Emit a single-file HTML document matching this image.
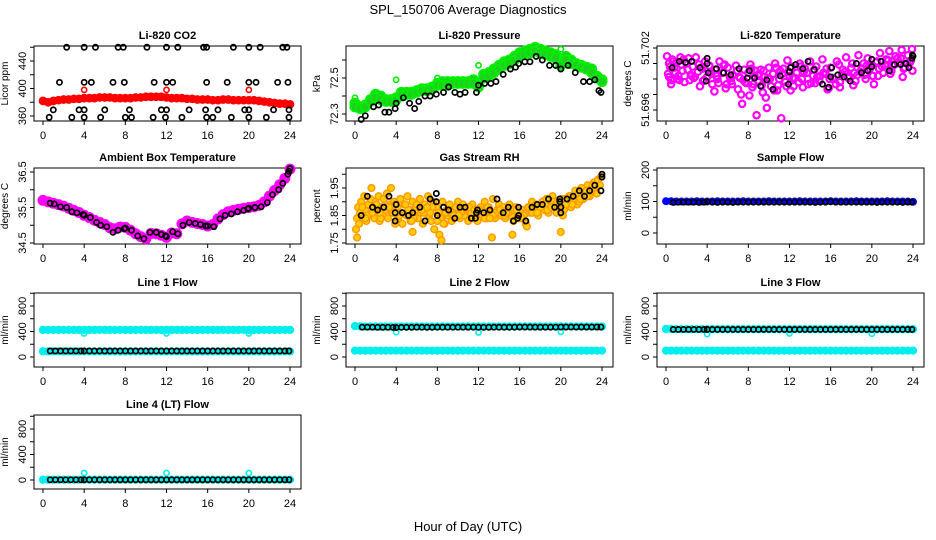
<!DOCTYPE html>
<html><head><meta charset="utf-8"><style>
body{margin:0;background:#fff}
svg{display:block;font-family:"Liberation Sans",sans-serif}
</style></head><body>
<svg id="c" width="936" height="540" viewBox="0 0 936 540">
<text x="468" y="14" text-anchor="middle" font-size="13">SPL_150706  Average Diagnostics</text>
<text x="468" y="531" text-anchor="middle" font-size="13">Hour of Day (UTC)</text>
</svg>
<script>
const T49=[0,0.5,1,1.5,2,2.5,3,3.5,4,4.5,5,5.5,6,6.5,7,7.5,8,8.5,9,9.5,10,10.5,11,11.5,12,12.5,13,13.5,14,14.5,15,15.5,16,16.5,17,17.5,18,18.5,19,19.5,20,20.5,21,21.5,22,22.5,23,23.5,24];
const TB=[0.7,1.2,1.7,2.2,2.7,3.2,3.7,4.0,4.5,5.0,5.5,6.0,6.5,7.0,7.5,8.0,8.5,9.0,9.5,10.0,10.5,11.0,11.5,12.0,12.5,13.0,13.5,14.0,14.5,15.0,15.5,16.0,16.5,17.0,17.5,18.0,18.5,19.0,19.5,20.0,20.5,21.0,21.5,22.0,22.5,23.0,23.5,23.9];
const xTicks=[0,4,8,12,16,20,24];

// CO2
const co2Red=[382,380,382,383,384,384,385,385,386,386,386,387,387,387,386,386,386,386,387,387,388,388,388,388,387,386,386,386,385,385,384,384,384,383,383,384,384,383,383,383,383,383,382,381,380,379,378,378,377];
const co2RedOutT=[4,12,20];
const co2RedOutV=[398,398,398];
const co2BlackT=[2.3,4,5.1,7.3,7.8,10.1,12,13.1,15.6,15.9,18.5,20,21.1,23.3,23.7, 1.6,4,4.7,6.8,7.9,10.8,12,12.6,15.9,17.9,20,20.7,22.8,23.8, 1.0,3.5,4,6,8.4,11.5,12,14.2,15.8,17,19.6,20,22.4,23.9, 0.6,2.8,4,5.6,8,8.6,10.7,11.9,13.5,15.9,16.5,18.3,20,21.7,23.9];
const co2BlackV=[460,460,460,460,460,460,460,460,460,460,460,460,460,460,460, 409,409,409,409,409,409,409,409,409,409,409,409,409,409, 369,369,369,369,369,369,369,369,369,369,369,369,369,369, 358,358,358,358,358,358,358,358,358,358,358,358,358,358,358];

// Pressure
const presGreen=[72.36,72.34,72.35,72.38,72.41,72.40,72.38,72.38,72.39,72.42,72.42,72.42,72.43,72.44,72.44,72.45,72.47,72.48,72.48,72.48,72.48,72.48,72.48,72.49,72.46,72.52,72.53,72.55,72.57,72.59,72.60,72.62,72.64,72.65,72.66,72.67,72.66,72.65,72.64,72.63,72.58,72.62,72.60,72.58,72.57,72.56,72.55,72.51,72.49];
const presGreenLow=[72.34,72.33,72.34,72.37,72.39,72.38,72.37,72.37,72.38,72.40,72.41,72.41,72.42,72.43,72.43,72.44,72.46,72.46,72.46,72.47,72.47,72.47,72.47,72.47,72.45,72.50,72.51,72.53,72.55,72.57,72.58,72.60,72.62,72.63,72.64,72.65,72.64,72.63,72.62,72.61,72.57,72.60,72.58,72.57,72.56,72.55,72.53,72.50,72.48];
const presGreenOutT=[0,4,8,12,20];
const presGreenOutV=[72.39,72.49,72.50,72.57,72.66];
const presBlackT=[0.6,1,1.8,2.3,2.9,3.3,3.9,4,4.7,5.3,5.8,6.2,6.8,7.3,7.9,8.6,9.1,9.7,10.2,10.7,11.8,12,12.6,13.2,13.7,14.4,15.1,15.6,15.9,16.5,17,17.6,18.2,18.9,19.5,20,20.7,21.4,22.2,22.8,23.3,23.7,23.9];
const presBlackV=[72.27,72.29,72.34,72.35,72.31,72.31,72.33,72.36,72.39,72.36,72.33,72.37,72.40,72.40,72.41,72.42,72.45,72.42,72.41,72.42,72.42,72.46,72.47,72.47,72.48,72.52,72.55,72.56,72.58,72.59,72.59,72.62,72.60,72.57,72.57,72.55,72.57,72.53,72.48,72.48,72.49,72.43,72.42];

// Temperature
const tempMagT=[0.1,0.2,0.3,0.5,0.6,0.8,1.0,1.2,1.4,1.6,1.8,2.0,2.2,2.4,2.6,2.9,3.1,3.3,3.5,3.8,4.0,4.2,4.5,4.8,5.0,5.2,5.5,5.8,6.0,6.3,6.5,6.8,7.0,7.2,7.4,7.6,7.8,8.0,8.2,8.4,8.6,8.8,9.0,9.2,9.4,9.6,9.8,10.0,10.2,10.4,10.6,10.8,11.0,11.2,11.4,11.6,11.8,12.0,12.2,12.4,12.7,13.0,13.2,13.5,13.8,14.0,14.3,14.6,14.9,15.2,15.5,15.8,16.0,16.3,16.6,16.9,17.2,17.5,17.8,18.1,18.4,18.7,19.0,19.3,19.6,19.9,20.2,20.5,20.8,21.1,21.4,21.7,22.0,22.3,22.6,22.9,23.2,23.5,23.8,23.9,23.95,
0.4,0.9,1.5,2.1,2.7,3.4,4.3,4.9,5.6,6.2,6.9,7.5,8.3,8.9,9.5,10.1,10.7,11.3,11.9,12.5,13.1,13.7,14.4,15.0,15.6,16.2,16.8,17.4,18.0,18.6,19.2,19.8,20.4,21.0,21.6,22.2,22.8,23.4,
0.3,0.7,1.1,1.7,2.3,2.8,3.2,3.7,4.4,5.1,5.7,6.4,7.1,7.7,8.1,8.7,9.3,9.9,10.5,11.1,11.7,12.3,12.9,13.4,14.1,14.7,15.3,15.9,16.5,17.1,17.7,18.3,18.9,19.5,20.1,20.7,21.3,21.9,22.5,23.1,23.7,
0.5,1.3,2.5,3.6,4.7,5.9,7.3,8.5,9.7,10.9,12.1,13.3,14.5,15.7,16.9,18.2,19.4,20.6,21.8,23.0];
const tempMagV=[51.7012,51.6995,51.7005,51.6989,51.7009,51.7001,51.7006,51.6993,51.7011,51.6998,51.6987,51.7005,51.7010,51.6994,51.7002,51.7011,51.6997,51.6983,51.7000,51.7007,51.6992,51.7003,51.6985,51.6999,51.6990,51.7007,51.6996,51.6981,51.7001,51.6988,51.6994,51.7003,51.6980,51.6991,51.6966,51.6999,51.6986,51.6996,51.7004,51.6982,51.6993,51.6955,51.6987,51.6999,51.6977,51.6992,51.6962,51.7001,51.6983,51.6995,51.7005,51.6979,51.6990,51.6952,51.7000,51.6987,51.7008,51.6993,51.7002,51.6983,51.6996,51.7005,51.6990,51.7000,51.6985,51.7007,51.6993,51.7002,51.6988,51.7009,51.6995,51.6981,51.7001,51.6990,51.7007,51.6982,51.6999,51.7011,51.6993,51.7005,51.6988,51.7013,51.7000,51.6994,51.7010,51.7003,51.6985,51.7007,51.7015,51.6996,51.7009,51.7017,51.7003,51.7012,51.7006,51.7018,51.7001,51.7013,51.7008,51.7019,51.6998,
51.7002,51.6996,51.7004,51.6999,51.6991,51.7001,51.6997,51.6993,51.7003,51.6992,51.6998,51.6989,51.7000,51.6994,51.6998,51.6990,51.7001,51.6995,51.6997,51.6991,51.7002,51.6996,51.6999,51.6993,51.7000,51.6991,51.7004,51.6997,51.7001,51.6994,51.7005,51.7000,51.7006,51.7002,51.7008,51.7004,51.7010,51.7005,
51.6992,51.7007,51.6990,51.7009,51.6989,51.6992,51.7004,51.6989,51.6995,51.6986,51.7004,51.6985,51.6992,51.6987,51.6974,51.6998,51.6984,51.6991,51.6979,51.6998,51.6983,51.6991,51.6987,51.6997,51.6986,51.6992,51.6996,51.6990,51.6985,51.6995,51.6991,51.6996,51.6997,51.7003,51.6993,51.7000,51.7004,51.6998,51.7010,51.7000,51.7006,
51.6985,51.6989,51.6993,51.6988,51.6978,51.6985,51.6975,51.6985,51.6972,51.6984,51.6979,51.6982,51.6986,51.6980,51.6987,51.6984,51.6990,51.6993,51.6995,51.6992];
const tempBlackT=[0.6,1.3,1.9,2.5,3.3,3.9,4.0,4.0,4.1,4.9,5.6,6.3,7.1,7.9,8.1,8.6,9.2,9.8,10.4,11.1,11.9,12.0,12.1,12.6,13.3,13.8,14.4,15.2,15.8,16.0,16.1,16.7,17.3,17.9,18.5,19.0,19.6,20.0,20.0,20.9,21.7,22.2,22.8,23.3,23.6,23.9,24.0,23.95];
const tempBlackV=[51.7001,51.7007,51.7006,51.7007,51.7001,51.6988,51.7010,51.7005,51.6996,51.7000,51.6996,51.6994,51.7000,51.6991,51.6998,51.6991,51.6983,51.6989,51.6980,51.6993,51.6985,51.6997,51.7001,51.7004,51.7000,51.7007,51.6999,51.6985,51.6982,51.6992,51.7001,51.6994,51.6992,51.6988,51.7005,51.6996,51.6998,51.7009,51.7002,51.7007,51.6998,51.7004,51.7004,51.7005,51.7001,51.7010,51.7012,51.7013];

// Ambient
const ambMag=[35.7,35.66,35.62,35.58,35.54,35.48,35.42,35.36,35.28,35.22,35.14,35.08,35.02,34.93,34.9,34.95,34.94,34.86,34.76,34.68,34.62,34.77,34.76,34.72,34.66,34.78,34.76,35.04,35.12,35.08,35.05,35.02,34.98,35.02,35.18,35.3,35.38,35.42,35.45,35.48,35.5,35.52,35.56,35.66,35.82,35.98,36.14,36.32,36.58];
const ambBlackT=[0.7,1.1,1.7,2.3,2.8,3.3,3.9,4.0,4.6,5.2,5.6,6.2,6.8,7.3,7.9,8.0,8.6,9.2,9.8,10.4,11.0,11.5,11.9,12.0,12.6,13.1,13.6,14.2,14.8,15.3,15.8,16.0,16.6,17.2,17.7,18.3,18.9,19.5,19.9,20.0,20.6,21.2,21.8,22.3,22.9,23.3,23.8,23.9,24.0];
const ambBlackV=[35.62,35.6,35.52,35.5,35.38,35.35,35.3,35.28,35.22,35.08,35.0,34.96,34.8,34.86,34.9,34.92,34.86,34.7,34.62,34.8,34.8,34.74,34.7,34.68,34.82,34.76,35.0,35.08,35.05,35.02,34.98,34.98,34.96,35.18,35.28,35.32,35.38,35.42,35.46,35.48,35.5,35.52,35.64,35.86,36.0,36.18,36.44,36.52,36.6];

// RH
const rhOrT=[0.1,0.2,0.3,0.4,0.5,0.6,0.8,0.9,1.0,1.1,1.3,1.4,1.5,1.6,1.8,1.9,2.0,2.2,2.3,2.4,2.6,2.7,2.8,3.0,3.1,3.2,3.4,3.5,3.6,3.8,3.9,4.1,4.2,4.4,4.5,4.6,4.8,5.0,5.1,5.3,5.4,5.6,5.8,5.9,6.1,6.3,6.4,6.6,6.8,6.9,7.1,7.2,7.4,7.6,7.7,7.9,8.1,8.2,8.4,8.5,8.7,8.9,9.0,9.2,9.4,9.5,9.7,9.9,10.0,10.2,10.4,10.5,10.7,10.9,11.0,11.2,11.4,11.5,11.7,11.9,12.0,12.2,12.4,12.6,12.8,13.0,13.2,13.4,13.6,13.8,14.0,14.2,14.4,14.6,14.8,15.0,15.2,15.4,15.6,15.8,16.0,16.2,16.4,16.6,16.8,17.0,17.2,17.4,17.6,17.8,18.0,18.2,18.4,18.6,18.8,19.0,19.2,19.4,19.6,19.8,20.0,20.2,20.4,20.6,20.8,21.0,21.2,21.4,21.6,21.8,22.0,22.2,22.4,22.6,22.8,23.0,23.2,23.4,23.6,23.8,23.9,
0.5,1.2,2.1,2.9,3.7,4.3,5.2,6.0,6.7,7.5,8.3,9.1,9.8,10.6,11.3,12.1,12.9,13.7,14.5,15.3,16.1,16.9,17.7,18.5,19.3,20.1,20.9,21.7,22.5,23.3,0.2,13.3,15.3,20.0,8.4,5.6,16.7,
0.7,1.7,2.5,3.3,4.0,4.9,5.7,6.5,7.3,8.0,8.8,9.6,10.3,11.1,11.8,12.6,13.4,14.1,14.9,15.7,16.4,17.2,18.0,18.7,19.5,20.3,21.1,21.8,22.6,23.5,
1.0,2.4,3.9,5.5,7.0,8.6,10.1,11.6,13.1,14.7,16.2,17.7,19.1,20.5,21.9,23.1];
const rhOrV=[1.80,1.84,1.88,1.82,1.86,1.90,1.84,1.92,1.87,1.83,1.89,1.85,1.91,1.95,1.88,1.84,1.90,1.86,1.92,1.83,1.88,1.85,1.91,1.87,1.93,1.84,1.89,1.95,1.86,1.90,1.82,1.88,1.84,1.91,1.86,1.82,1.89,1.85,1.92,1.87,1.83,1.90,1.85,1.88,1.84,1.91,1.86,1.82,1.89,1.87,1.92,1.85,1.83,1.90,1.80,1.88,1.86,1.78,1.84,1.90,1.82,1.87,1.85,1.89,1.83,1.87,1.85,1.88,1.90,1.84,1.87,1.89,1.85,1.88,1.83,1.86,1.89,1.84,1.87,1.83,1.86,1.88,1.85,1.90,1.84,1.88,1.86,1.91,1.84,1.87,1.89,1.85,1.88,1.84,1.87,1.89,1.85,1.83,1.88,1.86,1.84,1.87,1.85,1.82,1.88,1.86,1.90,1.87,1.89,1.85,1.88,1.90,1.87,1.91,1.86,1.89,1.92,1.88,1.86,1.90,1.87,1.85,1.91,1.89,1.92,1.88,1.91,1.94,1.89,1.92,1.95,1.91,1.93,1.96,1.92,1.95,1.97,1.94,1.98,1.96,1.99,
1.86,1.85,1.89,1.88,1.86,1.85,1.87,1.89,1.86,1.88,1.84,1.86,1.88,1.85,1.86,1.87,1.88,1.86,1.85,1.87,1.86,1.88,1.87,1.89,1.90,1.91,1.92,1.93,1.94,1.95,1.77,1.77,1.78,1.79,1.76,1.79,1.81,
1.88,1.86,1.84,1.88,1.86,1.89,1.84,1.87,1.86,1.83,1.86,1.85,1.86,1.88,1.87,1.84,1.85,1.87,1.86,1.87,1.85,1.86,1.88,1.87,1.89,1.87,1.89,1.90,1.92,1.93,
1.84,1.86,1.89,1.83,1.88,1.82,1.85,1.87,1.84,1.86,1.84,1.86,1.88,1.89,1.91,1.96];
const rhBlackT=[0.6,1.2,1.7,2.2,2.8,3.3,3.9,3.9,4.0,4.6,5.2,5.6,6.3,6.8,7.3,7.9,7.9,8.0,8.6,9.1,9.7,10.2,10.7,11.3,11.7,11.8,11.9,12.5,13.1,13.8,14.4,14.9,15.4,15.8,15.9,15.9,16.6,17.2,17.7,18.2,18.8,19.4,19.9,19.9,20.0,20.0,20.6,21.2,21.8,22.3,22.8,23.3,23.9,24.0,24.0];
const rhBlackV=[1.85,1.92,1.88,1.87,1.88,1.92,1.83,1.86,1.89,1.86,1.85,1.86,1.88,1.83,1.91,1.90,1.93,1.85,1.88,1.87,1.84,1.88,1.88,1.84,1.84,1.86,1.87,1.86,1.87,1.91,1.86,1.88,1.83,1.84,1.85,1.88,1.83,1.88,1.89,1.89,1.91,1.88,1.91,1.90,1.86,1.88,1.91,1.92,1.94,1.92,1.94,1.96,1.94,1.99,2.0];

// Sample Flow
const sampBlue=[101,101,100,100,100,100,101,100,100,100,101,100,100,100,100,101,100,100,100,100,101,100,100,100,100,100,101,100,100,100,100,100,101,100,100,100,100,101,100,100,100,100,100,101,100,100,100,100,99];
const sampBlack=[97,98,98,98,98,97,98,99,98,97,98,98,97,98,98,98,98,98,98,98,98,98,98,98,98,98,98,98,97,98,98,99,98,98,98,98,98,98,98,98,97,98,98,98,98,97,98,98];

// Line flows
const l1CyanHi=[425,426,425,425,426,425,425,425,426,425,425,426,425,425,425,426,425,425,425,426,425,425,425,425,426,425,425,425,426,425,425,425,426,425,425,426,425,425,425,426,425,425,425,426,425,425,425,426,425];
const l1CyanLo=[90,88,88,88,88,88,88,88,88,88,88,88,88,88,88,88,88,88,88,88,88,88,88,88,88,88,88,88,88,88,88,88,88,88,88,88,88,88,88,88,88,88,88,88,88,88,88,88,88];
const l1Black=[95,95,95,95,95,95,95,95,95,95,95,95,95,95,95,95,95,95,95,95,95,95,95,95,95,95,95,95,95,95,95,95,95,95,95,95,95,95,95,95,95,95,95,95,95,95,95,95];
const l2CyanHi=[485,480,478,478,478,478,478,478,478,478,478,478,478,478,478,478,478,478,478,478,478,478,478,478,478,478,478,478,478,478,478,478,478,478,478,478,478,478,478,478,478,478,478,478,478,478,478,478,478];
const l2CyanLo=[100,100,100,100,100,100,100,100,100,100,100,100,100,100,100,100,100,100,100,100,100,100,100,100,100,100,100,100,100,100,100,100,100,100,100,100,100,100,100,100,100,100,100,100,100,100,100,100,100];
const l2Black=[468,468,468,466,466,466,464,462,465,466,466,467,467,466,466,467,467,467,467,467,467,468,468,467,466,466,467,467,467,467,468,470,470,469,468,468,468,468,468,470,470,470,470,470,470,470,470,470];
const l3CyanHi=[440,438,436,436,436,436,436,436,436,436,436,436,436,436,436,436,436,436,436,436,436,436,436,436,436,436,436,436,436,436,436,436,436,436,436,436,436,436,436,436,436,436,436,436,436,436,436,436,436];
const l3CyanLo=[100,100,100,100,100,100,100,100,100,100,100,100,100,100,100,100,100,100,100,100,100,100,100,100,100,100,100,100,100,100,100,100,100,100,100,100,100,100,100,100,100,100,100,100,100,100,100,100,100];
const l3Black=[432,432,432,432,432,432,432,432,432,432,432,432,432,432,432,432,432,432,432,432,432,432,432,432,432,432,432,432,432,432,432,432,432,432,432,432,432,432,432,432,432,432,432,432,432,432,432,432];
const l4Cyan=[5,5,5,5,5,5,5,5,5,5,5,5,5,5,5,5,5,5,5,5,5,5,5,5,5,5,5,5,5,5,5,5,5,5,5,5,5,5,5,5,5,5,5,5,5,5,5,5,5];
const l4Black=[3,3,3,3,3,3,3,3,3,3,3,3,3,3,3,3,3,3,3,3,3,3,3,3,3,3,3,3,3,3,3,3,3,3,3,3,3,3,3,3,3,3,3,3,3,3,3,3];
const outT=[4,12,20];
const l1Out=[370,370,370];
const l2Out=[390,385,395];
const l3Out=[360,370,365];
const l4Out=[110,110,110];

const NS='http://www.w3.org/2000/svg';
const svg=document.getElementById('c');
function mk(tag,attrs,parent){const e=document.createElementNS(NS,tag);for(const k in attrs)e.setAttribute(k,attrs[k]);(parent||svg).appendChild(e);return e;}

const colL=[34,346,657], W=267;
const rowT=[46,168,293,415], rowB=[121,244,367,489];

function panel(name,title,ylab,col,row,v0,p0,v1,p1,ticks,labels){
  const g=mk('g',{});
  
  
  const L=colL[col],T=rowT[row],B=rowB[row];
  const xs=h=>L+9+h*247/24;
  const ys=v=>p0+(v-v0)*(p1-p0)/(v1-v0);
  const t=mk('text',{x:L+W/2,y:T-7,'text-anchor':'middle','font-size':11,'font-weight':'bold'},g);
  t.textContent=title;
  
  
  const box=mk('rect',{x:L,y:T,width:W,height:B-T,fill:'none',stroke:'#000','stroke-width':1},g);
  
  
  const yl=mk('text',{transform:`translate(${L-26},${(T+B)/2}) rotate(-90)`,'text-anchor':'middle','font-size':10},g);
  yl.textContent=ylab;
  
  
  ticks.forEach(v=>{const y=ys(v);mk('line',{x1:L-4,x2:L,y1:y,y2:y,stroke:'#000'},g);});
  labels.forEach(v=>{const y=ys(v);const tx=mk('text',{transform:`translate(${L-8},${y}) rotate(-90)`,'text-anchor':'middle','font-size':11},g);tx.textContent=String(v);
    
    });
  xTicks.forEach(h=>{const x=xs(h);mk('line',{x1:x,x2:x,y1:B,y2:B+4,stroke:'#000'},g);
    const tx=mk('text',{x:x,y:B+18,'text-anchor':'middle','font-size':11},g);tx.textContent=String(h);
    
    });
  const dg=mk('g',{},g);
  
  
  return {pts(ts,vs,opt,sname){const sg=mk('g',{},dg);
    
    
    for(let i=0;i<ts.length&&i<vs.length;i++){const c=mk('circle',{cx:xs(ts[i]),cy:ys(vs[i]),r:opt.r||2.6,fill:opt.fill||'none',stroke:opt.stroke,'stroke-width':opt.sw||1.6},sg);
      
      }}};
}
const BLK={stroke:'#000',sw:1.7,r:2.6};

let p=panel('co2','Li-820 CO2','Licor ppm',0,0,360,116,440,61,[360,380,400,420,440,460],[360,400,440]);
p.pts(T49,co2Red,{stroke:'#ff0000',fill:'#ff0000',r:3.6,sw:1.5},'co2-red-series');
p.pts(co2RedOutT,co2RedOutV,{stroke:'#ff0000',r:2.6,sw:1.6},'co2-red-outliers');
p.pts(co2BlackT,co2BlackV,BLK,'co2-black-series');

p=panel('pressure','Li-820 Pressure','kPa',1,0,72.3,114,72.5,78,[72.3,72.4,72.5,72.6],[72.3,72.5]);
p.pts(T49,presGreen,{stroke:'#00ee00',fill:'#22cc22',r:4.5,sw:2},'pressure-green-series');
p.pts(T49,presGreenLow,{stroke:'#00ee00',fill:'#22cc22',r:4.5,sw:2},'pressure-green-lower-series');
p.pts(presGreenOutT,presGreenOutV,{stroke:'#00ee00',r:2.6,sw:1.6},'pressure-green-outliers');
p.pts(presBlackT,presBlackV,BLK,'pressure-black-series');

p=panel('temperature','Li-820 Temperature','degrees C',2,0,51.696,110,51.702,48,[51.696,51.6975,51.699,51.7005,51.702],['51.696','51.702']);
p.pts(tempMagT,tempMagV,{stroke:'#ff00ff',r:3.2,sw:2.2},'temperature-magenta-series');
p.pts(tempBlackT,tempBlackV,BLK,'temperature-black-series');

p=panel('ambient','Ambient Box Temperature','degrees C',0,1,34.5,243,36.5,172,[34.5,35,35.5,36,36.5],['34.5','35.5','36.5']);
p.pts(T49,ambMag,{stroke:'#ff00ff',fill:'#ff00ff',r:4.5,sw:2},'ambient-magenta-series');
p.pts(ambBlackT,ambBlackV,BLK,'ambient-black-series');

p=panel('rh','Gas Stream RH','percent',1,1,1.75,243,1.95,188,[1.75,1.8,1.85,1.9,1.95,2.0],['1.75','1.85','1.95']);
p.pts(rhOrT,rhOrV,{stroke:'#ff9900',fill:'#ffcc00',r:3.4,sw:1.4},'rh-orange-series');
p.pts(rhBlackT,rhBlackV,BLK,'rh-black-series');

p=panel('sample-flow','Sample Flow','ml/min',2,1,0,233,200,170,[0,50,100,150,200],[0,100,200]);
p.pts(T49,sampBlue,{stroke:'#0000ff',fill:'#0000ff',r:3.2,sw:1.5},'sample-flow-blue-series');
p.pts(TB,sampBlack,BLK,'sample-flow-black-series');

const fT=[0,200,400,600,800,1000], fL=[0,400,800];
const CY={stroke:'#00eeee',fill:'#00eeee',r:3.4,sw:1.5};
p=panel('line1-flow','Line 1 Flow','ml/min',0,2,0,357,800,306,fT,fL);
p.pts(T49,l1CyanHi,CY,'line1-cyan-high-series');
p.pts(T49,l1CyanLo,CY,'line1-cyan-low-series');
p.pts(outT,l1Out,{stroke:'#00eeee',r:2.6,sw:1.6},'line1-cyan-outliers');
p.pts(TB,l1Black,BLK,'line1-black-series');

p=panel('line2-flow','Line 2 Flow','ml/min',1,2,0,357,800,306,fT,fL);
p.pts(T49,l2CyanHi,CY,'line2-cyan-high-series');
p.pts(T49,l2CyanLo,CY,'line2-cyan-low-series');
p.pts(outT,l2Out,{stroke:'#00eeee',r:2.6,sw:1.6},'line2-cyan-outliers');
p.pts(TB,l2Black,BLK,'line2-black-series');

p=panel('line3-flow','Line 3 Flow','ml/min',2,2,0,357,800,306,fT,fL);
p.pts(T49,l3CyanHi,CY,'line3-cyan-high-series');
p.pts(T49,l3CyanLo,CY,'line3-cyan-low-series');
p.pts(outT,l3Out,{stroke:'#00eeee',r:2.6,sw:1.6},'line3-cyan-outliers');
p.pts(TB,l3Black,BLK,'line3-black-series');

p=panel('line4-flow','Line 4 (LT) Flow','ml/min',0,3,0,480,800,429,fT,fL);
p.pts(T49,l4Cyan,CY,'line4-cyan-series');
p.pts(outT,l4Out,{stroke:'#00eeee',r:2.6,sw:1.6},'line4-cyan-outliers');
p.pts(TB,l4Black,BLK,'line4-black-series');
</script>
</body></html>
